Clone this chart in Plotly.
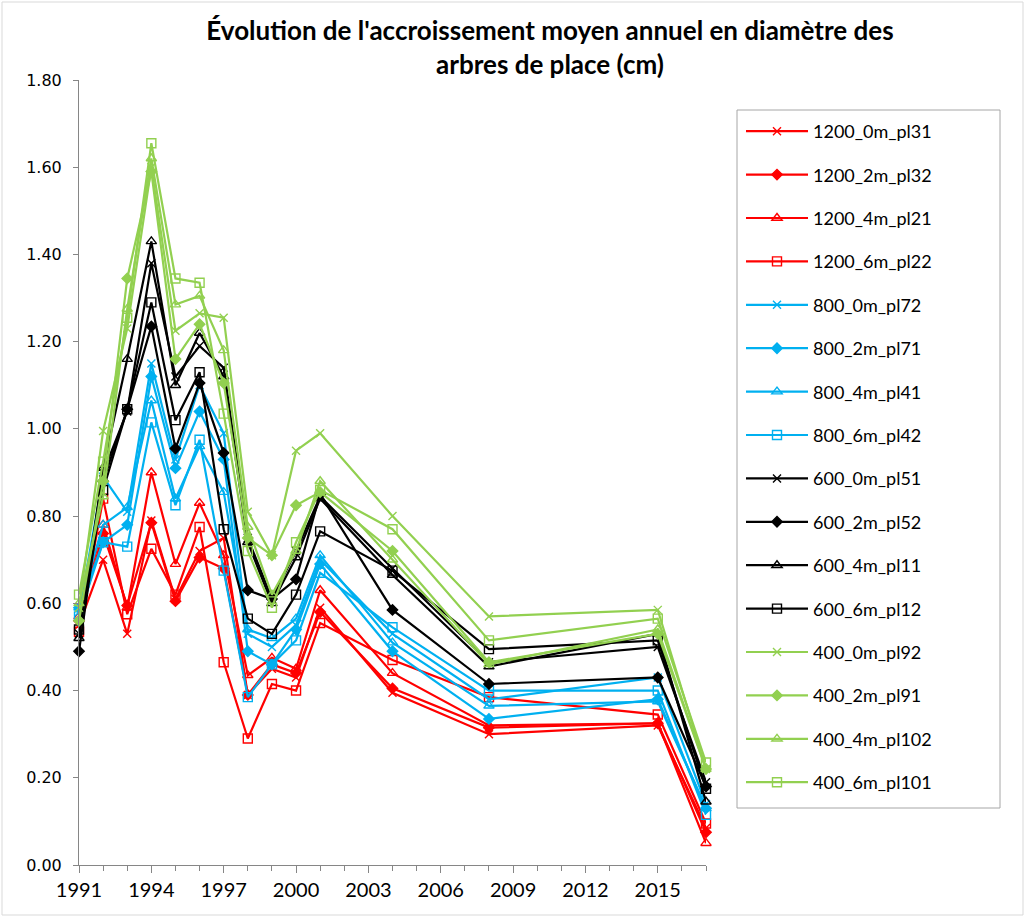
import plotly.graph_objects as go

# Measurement years (x axis)
years = [1991, 1992, 1993, 1994, 1995, 1996, 1997, 1998, 1999, 2000, 2001, 2004, 2008, 2015, 2017]

# Mean annual diameter increment (cm) per plot
s1200_0m_pl31 = [0.55, 0.70, 0.53, 0.79, 0.61, 0.72, 0.75, 0.39, 0.45, 0.43, 0.59, 0.395, 0.30, 0.32, 0.085]
s1200_2m_pl32 = [0.56, 0.76, 0.595, 0.785, 0.605, 0.705, 0.68, 0.39, 0.46, 0.44, 0.58, 0.405, 0.315, 0.325, 0.075]
s1200_4m_pl21 = [0.57, 0.78, 0.59, 0.90, 0.69, 0.83, 0.71, 0.435, 0.475, 0.45, 0.63, 0.44, 0.32, 0.325, 0.05]
s1200_6m_pl22 = [0.535, 0.84, 0.575, 0.725, 0.62, 0.775, 0.465, 0.29, 0.415, 0.40, 0.555, 0.47, 0.385, 0.345, 0.095]

s800_0m_pl72 = [0.58, 0.89, 0.81, 1.15, 0.93, 1.10, 0.99, 0.53, 0.50, 0.55, 0.70, 0.53, 0.38, 0.43, 0.14]
s800_2m_pl71 = [0.59, 0.74, 0.78, 1.12, 0.91, 1.04, 0.93, 0.49, 0.46, 0.54, 0.69, 0.49, 0.335, 0.38, 0.13]
s800_4m_pl41 = [0.59, 0.78, 0.82, 1.065, 0.84, 0.96, 0.855, 0.54, 0.52, 0.565, 0.71, 0.51, 0.365, 0.375, 0.13]
s800_6m_pl42 = [0.57, 0.74, 0.73, 1.015, 0.825, 0.975, 0.675, 0.385, 0.46, 0.515, 0.67, 0.545, 0.40, 0.40, 0.115]

s600_0m_pl51 = [0.53, 0.90, 1.04, 1.38, 1.12, 1.19, 1.14, 0.75, 0.61, 0.72, 0.845, 0.68, 0.465, 0.50, 0.19]
s600_2m_pl52 = [0.49, 0.88, 1.045, 1.235, 0.955, 1.105, 0.945, 0.63, 0.61, 0.655, 0.85, 0.585, 0.415, 0.43, 0.18]
s600_4m_pl11 = [0.52, 0.91, 1.16, 1.43, 1.10, 1.22, 1.12, 0.74, 0.60, 0.705, 0.84, 0.665, 0.455, 0.53, 0.145]
s600_6m_pl12 = [0.54, 0.86, 1.045, 1.29, 1.02, 1.13, 0.77, 0.565, 0.53, 0.62, 0.765, 0.675, 0.495, 0.515, 0.175]

s400_0m_pl92 = [0.59, 0.995, 1.23, 1.60, 1.225, 1.265, 1.255, 0.81, 0.71, 0.95, 0.99, 0.80, 0.57, 0.585, 0.22]
s400_2m_pl91 = [0.56, 0.88, 1.345, 1.59, 1.16, 1.24, 1.105, 0.75, 0.71, 0.825, 0.855, 0.72, 0.465, 0.53, 0.22]
s400_4m_pl102 = [0.60, 0.845, 1.275, 1.62, 1.285, 1.305, 1.18, 0.775, 0.62, 0.72, 0.88, 0.70, 0.46, 0.54, 0.22]
s400_6m_pl101 = [0.62, 0.925, 1.255, 1.655, 1.345, 1.335, 1.035, 0.72, 0.59, 0.74, 0.86, 0.77, 0.515, 0.565, 0.235]

names = ["1200_0m_pl31", "1200_2m_pl32", "1200_4m_pl21", "1200_6m_pl22",
         "800_0m_pl72", "800_2m_pl71", "800_4m_pl41", "800_6m_pl42",
         "600_0m_pl51", "600_2m_pl52", "600_4m_pl11", "600_6m_pl12",
         "400_0m_pl92", "400_2m_pl91", "400_4m_pl102", "400_6m_pl101"]
series = [s1200_0m_pl31, s1200_2m_pl32, s1200_4m_pl21, s1200_6m_pl22,
          s800_0m_pl72, s800_2m_pl71, s800_4m_pl41, s800_6m_pl42,
          s600_0m_pl51, s600_2m_pl52, s600_4m_pl11, s600_6m_pl12,
          s400_0m_pl92, s400_2m_pl91, s400_4m_pl102, s400_6m_pl101]

density_colors = ["#FF0000", "#00B0F0", "#000000", "#92D050"]
marker_styles = [
    dict(symbol="x-thin-open", size=8),
    dict(symbol="diamond", size=8),
    dict(symbol="triangle-up-open", size=9),
    dict(symbol="square-open", size=9),
]

W, H = 1025, 917

fig = go.Figure()
for i, (name, vals) in enumerate(zip(names, series)):
    color = density_colors[i // 4]
    ms = marker_styles[i % 4]
    fig.add_trace(go.Scatter(
        x=years, y=vals, name=name, mode="lines+markers",
        line=dict(color=color, width=2.2),
        marker=dict(symbol=ms["symbol"], size=ms["size"], color=color,
                    line=dict(color=color, width=1.4)),
        cliponaxis=False, legendgroup=name,
    ))

axis_grey = "#868686"
fig.update_layout(
    width=W, height=H,
    margin=dict(l=0, r=0, t=0, b=0, autoexpand=False),
    paper_bgcolor="white", plot_bgcolor="white",
    title=dict(
        text="Évolution de l'accroissement moyen annuel en diamètre des<br>arbres de place (cm)",
        x=550 / W, xanchor="center", yref="container", y=1 - 40 / H, yanchor="top",
        font=dict(family="Lato", size=26, color="#000000", weight="bold"),
    ),
    xaxis=dict(
        domain=[79 / W, 706 / W], range=[1991, 2017], automargin=False,
        tickmode="array", tickvals=list(range(1991, 2016, 3)),
        ticks="outside", ticklen=7, tickcolor=axis_grey, tickwidth=1,
        minor=dict(dtick=1, tick0=1991, ticks="outside", ticklen=5, tickcolor=axis_grey),
        showline=True, linecolor=axis_grey, linewidth=1,
        showgrid=False, zeroline=False,
        tickfont=dict(family="Lato", size=20, color="#000000"),
    ),
    yaxis=dict(
        domain=[1 - 865 / H, 1 - 80 / H], range=[0, 1.8], automargin=False,
        tickvals=[0, 0.2, 0.4, 0.6, 0.8, 1.0, 1.2, 1.4, 1.6, 1.8], tickformat=".2f",
        ticks="outside", ticklen=5, tickcolor=axis_grey,
        ticklabelstandoff=8,
        showline=True, linecolor=axis_grey, linewidth=1,
        showgrid=False, zeroline=False,
        tickfont=dict(family="DejaVu Sans", size=16, color="#000000"),
    ),
    legend=dict(
        x=741 / W, xanchor="left", y=1 - 113 / H, yanchor="top",
        borderwidth=0, bgcolor="rgba(0,0,0,0)",
        font=dict(family="Lato", size=18, color="#000000"),
        tracegroupgap=17, itemwidth=62, traceorder="grouped",
    ),
    showlegend=True,
    shapes=[
        # outer chart frame
        dict(type="rect", xref="paper", yref="paper",
             x0=2 / W, x1=1 - 2 / W, y0=2 / H, y1=1 - 2 / H,
             line=dict(color="#D9D9D9", width=1), layer="below"),
        # legend frame
        dict(type="rect", xref="paper", yref="paper",
             x0=737 / W, x1=1000 / W, y0=1 - 808 / H, y1=1 - 110 / H,
             line=dict(color="#A6A6A6", width=1), fillcolor="white", layer="below"),
    ],
)

fig.write_html("out.html")
